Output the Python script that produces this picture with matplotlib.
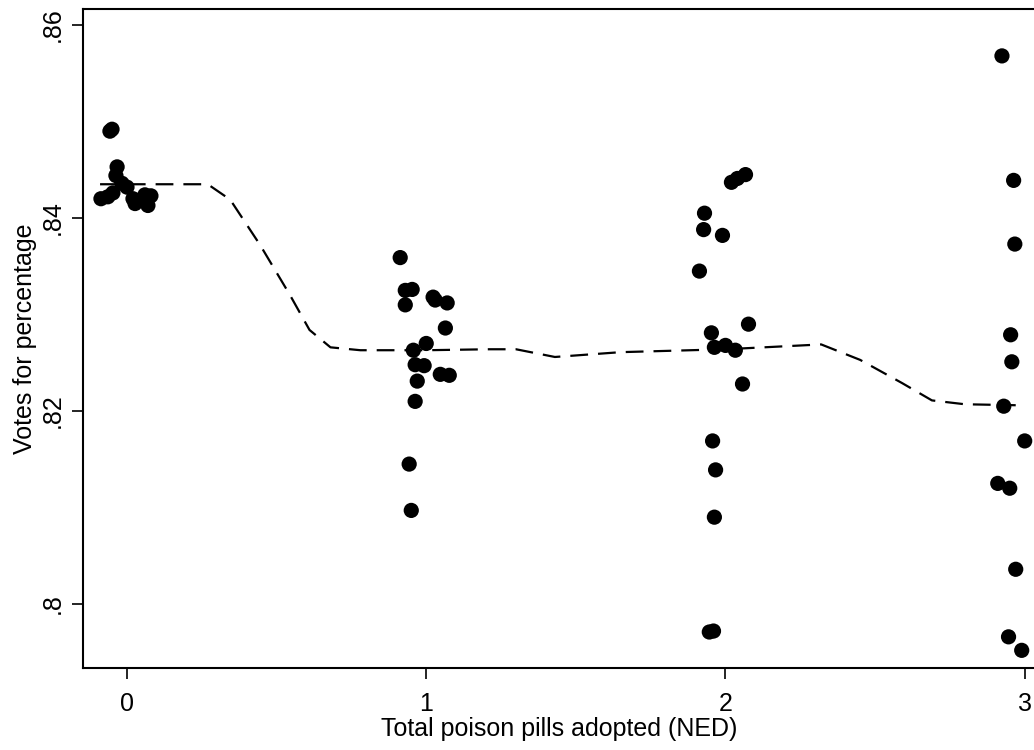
import matplotlib
matplotlib.use("Agg")
import matplotlib.pyplot as plt
import numpy as np

plt.rcParams['font.family'] = ['Liberation Sans', 'DejaVu Sans']

# Jittered scatter points: x = pills adopted (jittered), y = votes for percentage
x0 = [-0.087, -0.064, -0.047, -0.057, -0.050, -0.033, -0.037, -0.017, 0.000, 0.020, 0.027, 0.060, 0.070, 0.080]
y0 = [0.8420, 0.8422, 0.8426, 0.8490, 0.8492, 0.8453, 0.8444, 0.8436, 0.8432, 0.8420, 0.8415, 0.8424, 0.8413, 0.8423]

x1 = [0.913, 0.930, 0.953, 0.930, 1.023, 1.030, 1.070, 1.064, 1.000, 0.957, 0.963, 0.993, 1.047, 1.077, 0.970, 0.963, 0.943, 0.950]
y1 = [0.8359, 0.8325, 0.8326, 0.8310, 0.8318, 0.8315, 0.8312, 0.8286, 0.8270, 0.8263, 0.8248, 0.8247, 0.8238, 0.8237, 0.8231, 0.8210, 0.8145, 0.8097]

x2 = [1.930, 1.927, 1.990, 1.913, 2.020, 2.040, 2.067, 1.953, 2.077, 1.963, 2.000, 2.033, 2.057, 1.957, 1.967, 1.963, 1.946, 1.960]
y2 = [0.8405, 0.8388, 0.8382, 0.8345, 0.8437, 0.8441, 0.8445, 0.8281, 0.8290, 0.8266, 0.8268, 0.8263, 0.8228, 0.8169, 0.8139, 0.8090, 0.7971, 0.7972]

x3 = [2.924, 2.963, 2.967, 2.953, 2.957, 2.930, 3.000, 2.910, 2.950, 2.970, 2.946, 2.990]
y3 = [0.8568, 0.8439, 0.8373, 0.8279, 0.8251, 0.8205, 0.8169, 0.8125, 0.8120, 0.8036, 0.7966, 0.7952]

# Smoothed (dashed) line
line_x = [-0.09, 0.27, 0.345, 0.445, 0.545, 0.61, 0.68, 0.78, 1.0, 1.21, 1.30, 1.43, 1.65, 2.0, 2.32, 2.45, 2.59, 2.69, 2.80, 2.97]
line_y = [0.8435, 0.8435, 0.8419, 0.8372, 0.8320, 0.8284, 0.8266, 0.8263, 0.8263, 0.8264, 0.8264, 0.8256, 0.8261, 0.8264, 0.8269, 0.8253, 0.8229, 0.8211, 0.8207, 0.8206]

xticks = [0, 1, 2, 3]
xticklabels = ['0', '1', '2', '3']
yticks = [0.80, 0.82, 0.84, 0.86]
yticklabels = ['.8', '.82', '.84', '.86']

fig = plt.figure(figsize=(10.34, 7.5), dpi=100)
ax = fig.add_axes([83/1034, (750-668)/750, 1 - 83/1034 + 0.002, (668-9)/750])

xs = x0 + x1 + x2 + x3
ys = y0 + y1 + y2 + y3
ax.scatter(xs, ys, s=120, color='black', edgecolors='none', zorder=3)
ax.plot(line_x, line_y, color='black', lw=1.6, dashes=(8, 4.5), zorder=2)

ax.set_xlim(-0.147, 3.038)
ax.set_ylim(0.79337, 0.86166)
ax.set_xticks(xticks)
ax.set_xticklabels(xticklabels)
ax.set_yticks(yticks)
ax.set_yticklabels(yticklabels, rotation=90, va='center')
ax.tick_params(axis='both', length=8, width=1.2, labelsize=18, colors='black', pad=5)
ax.tick_params(axis='x', pad=9)
for s in ['left', 'bottom', 'top']:
    ax.spines[s].set_linewidth(1.5)
ax.spines['right'].set_visible(False)

ax.set_xlabel('Total poison pills adopted (NED)', fontsize=18, labelpad=1)
ax.set_ylabel('Votes for percentage', fontsize=18, labelpad=3)

fig.savefig('out.png', dpi=100)
